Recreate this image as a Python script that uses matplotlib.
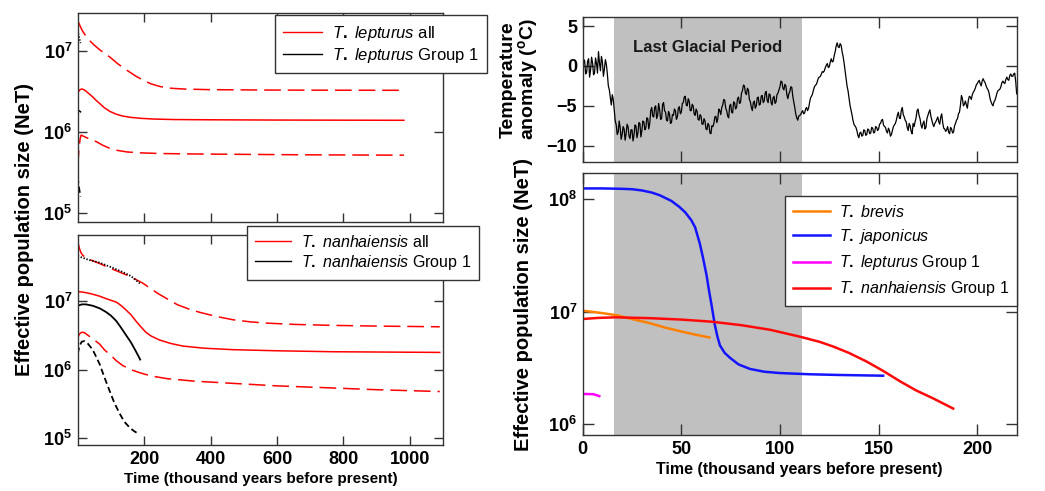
import matplotlib
matplotlib.use('Agg')
import matplotlib.pyplot as plt
from matplotlib.ticker import FixedLocator, NullLocator, NullFormatter

plt.rcParams['font.family'] = ['Liberation Sans', 'DejaVu Sans']
plt.rcParams['mathtext.fontset'] = 'custom'
plt.rcParams['mathtext.rm'] = 'Liberation Sans:bold'
plt.rcParams['mathtext.it'] = 'Liberation Sans:italic'
plt.rcParams['mathtext.bf'] = 'Liberation Sans:bold'
plt.rcParams['lines.scale_dashes'] = False

# ---- Left top: T. lepturus (all = red, Group 1 = black) ----
lep_mid_x = [0, 3, 7, 12, 18, 25, 35, 45, 56, 67, 80, 97, 115, 135, 160, 190,
             230, 290, 400, 600, 982]
lep_mid_y = [3.0e6, 3.2e6, 3.35e6, 3.4e6, 3.35e6, 3.2e6, 2.95e6, 2.72e6,
             2.45e6, 2.24e6, 2.0e6, 1.8e6, 1.67e6, 1.58e6, 1.52e6, 1.48e6,
             1.45e6, 1.43e6, 1.42e6, 1.41e6, 1.4e6]
lep_hi_x = [0, 8, 15, 25, 37, 50, 67, 82, 97, 120, 148, 175, 198, 220, 248,
            280, 320, 400, 600, 982]
lep_hi_y = [2.37e7, 2.0e7, 1.75e7, 1.52e7, 1.33e7, 1.18e7, 1.03e7, 9.3e6,
            8.4e6, 7.0e6, 5.8e6, 4.9e6, 4.35e6, 3.95e6, 3.65e6, 3.48e6, 3.4e6,
            3.34e6, 3.3e6, 3.28e6]
lep_lo_x = [0, 2, 4, 7, 10, 15, 25, 40, 57, 75, 97, 120, 148, 190, 248, 350,
            500, 700, 982]
lep_lo_y = [3.7e5, 5.0e5, 6.5e5, 8.2e5, 9.2e5, 9.0e5, 8.6e5, 8.1e5, 7.6e5,
            6.9e5, 6.3e5, 5.95e5, 5.7e5, 5.55e5, 5.45e5, 5.38e5, 5.32e5,
            5.25e5, 5.2e5]
lep1_x = [0, 4, 8.4]
lep1_mid = [1.86e6, 1.84e6, 1.78e6]
lep1_hi = [1.8e7, 1.5e7, 1.25e7]
lep1_lo = [2.8e5, 2.1e5, 1.6e5]

# ---- Left bottom: T. nanhaiensis (all = red, Group 1 = black) ----
nan_mid_x = [0, 20, 40, 66, 85, 100, 116, 130, 145, 160, 175, 190, 205, 220,
             246, 280, 317, 380, 469, 600, 770, 1090]
nan_mid_y = [1.37e7, 1.33e7, 1.27e7, 1.17e7, 1.08e7, 1.02e7, 9.6e6, 8.6e6,
             7.4e6, 6.3e6, 5.1e6, 4.2e6, 3.5e6, 3.1e6, 2.7e6, 2.4e6, 2.2e6,
             2.05e6, 1.95e6, 1.88e6, 1.82e6, 1.78e6]
nan_hi_x = [0, 5, 10, 15, 30, 50, 66, 90, 120, 150, 175, 197, 220, 245, 268,
            300, 335, 368, 420, 469, 520, 569, 650, 770, 900, 1090]
nan_hi_y = [7.3e7, 5.8e7, 5.0e7, 4.6e7, 4.1e7, 3.75e7, 3.5e7, 3.1e7, 2.7e7,
            2.35e7, 2.05e7, 1.8e7, 1.5e7, 1.25e7, 1.08e7, 8.8e6, 7.6e6, 6.8e6,
            5.9e6, 5.3e6, 4.95e6, 4.75e6, 4.55e6, 4.4e6, 4.3e6, 4.2e6]
nan_lo_x = [0, 5, 12, 20, 35, 50, 66, 80, 100, 116, 135, 160, 187, 220, 268,
            350, 469, 600, 770, 900, 1090]
nan_lo_y = [2.9e6, 3.3e6, 3.5e6, 3.45e6, 3.05e6, 2.7e6, 2.35e6, 1.95e6,
            1.6e6, 1.35e6, 1.15e6, 1.0e6, 9.0e5, 8.1e5, 7.4e5, 6.8e5, 6.3e5,
            5.8e5, 5.4e5, 5.1e5, 4.8e5]
nan1_mid_x = [0, 12, 25, 45, 66, 85, 100, 116, 130, 145, 160, 175, 188]
nan1_mid_y = [8.5e6, 8.9e6, 8.9e6, 8.5e6, 7.8e6, 6.9e6, 6.1e6, 5.1e6, 4.1e6,
              3.2e6, 2.5e6, 1.85e6, 1.4e6]
nan1_hi_x = [0, 30, 66, 100, 130, 160, 187]
nan1_hi_y = [4.5e7, 4.0e7, 3.6e7, 3.1e7, 2.7e7, 2.3e7, 1.8e7]
nan1_lo_x = [0, 5, 12, 20, 30, 45, 55, 66, 80, 96, 110, 126, 140, 157, 170,
             182]
nan1_lo_y = [1.7e6, 2.2e6, 2.55e6, 2.6e6, 2.4e6, 1.95e6, 1.55e6, 1.2e6,
             7.8e5, 4.9e5, 3.3e5, 2.3e5, 1.75e5, 1.42e5, 1.27e5, 1.17e5]

# ---- Right top: temperature anomaly, read at whole and half kyr ----
temp_y_whole = [
    -1.2, 0.6, -0.8, 0.9, -0.5, 0.4, -0.9, 0.3, 1.8, -0.6, 0.5, -0.4, 0.2, -2.5,
    -4.0, -3.6, -5.6, -7.4, -8.3, -7.7, -8.6, -7.9, -8.5, -7.6, -9.1, -8.0, -8.7,
    -7.5, -8.4, -7.2, -8.1, -7.0, -7.8, -6.6, -7.2, -5.2, -6.4, -5.0, -6.2, -5.5,
    -6.6, -4.6, -5.8, -6.9, -6.0, -7.1, -6.2, -5.6, -6.4, -5.1, -5.8, -4.6, -3.8,
    -5.0, -4.4, -5.6, -5.0, -6.2, -5.7, -6.8, -6.3, -7.3, -6.9, -8.0, -7.4, -8.5,
    -7.6, -6.4, -7.1, -5.4, -6.1, -4.9, -4.3, -5.6, -6.5, -4.8, -5.9, -4.6, -5.2,
    -3.9, -4.6, -3.1, -2.5, -3.6, -3.0, -4.5, -5.6, -4.4, -5.0, -3.9, -4.8, -3.7,
    -4.4, -3.2, -4.6, -3.6, -4.9, -3.8, -4.5, -3.4, -2.6, -2.0, -3.0, -2.5, -4.1,
    -3.2, -2.7, -4.5, -6.0, -6.8, -6.2, -5.8, -6.0, -5.4, -5.6, -4.6, -3.8, -3.0,
    -2.4, -1.9, -1.4, -1.0, -0.8, -0.2, 0.3, -0.1, 0.9, 0.6, 1.8, 2.9, 2.3, 2.6,
    1.2, -0.6, -2.5, -4.0, -5.5, -6.8, -7.5, -8.1, -9.0, -8.3, -8.7, -8.1, -8.6,
    -8.0, -8.4, -7.8, -8.3, -7.7, -7.9, -7.2, -6.7, -7.6, -8.2, -7.8, -8.8, -8.1,
    -7.4, -6.8, -5.8, -6.6, -5.2, -6.4, -7.0, -8.1, -7.5, -8.5, -7.6, -6.5, -5.4,
    -6.6, -7.8, -6.9, -7.7, -6.2, -5.5, -6.8, -7.6, -7.0, -6.4, -7.3, -6.0, -7.8,
    -8.2, -7.6, -8.5, -7.9, -8.3, -7.2, -6.6, -5.8, -3.7, -5.0, -4.4, -5.3, -3.8,
    -4.2, -3.3, -2.8, -2.2, -1.8, -2.5, -1.6, -2.1, -2.8, -3.4, -4.5, -5.0, -4.3,
    -3.4, -3.0, -2.6, -1.9, -2.2, -1.4, -1.8, -1.0, -1.3, -0.9, -3.5,
]
temp_y_half = [
    0.8, -1.0, 0.6, -1.4, 1.1, -1.1, 1.0, -0.9, 0.4, 1.2, -1.3, 0.8, -1.0, -3.0,
    -4.9, -4.2, -6.9, -8.6, -6.9, -9.2, -7.6, -9.3, -7.3, -8.8, -8.0, -9.4, -7.4,
    -9.0, -7.1, -8.9, -6.9, -8.0, -6.5, -7.9, -5.6, -6.3, -5.2, -6.6, -4.7, -6.7,
    -4.8, -5.6, -6.8, -5.7, -7.2, -6.1, -5.4, -6.7, -5.3, -6.0, -4.7, -3.9, -4.9,
    -4.1, -5.6, -4.8, -6.0, -5.4, -6.7, -6.1, -7.3, -6.6, -7.9, -7.2, -8.4, -7.5,
    -7.2, -6.3, -6.6, -5.6, -5.2, -4.2, -5.3, -6.3, -5.0, -5.8, -4.5, -5.4, -4.1,
    -4.7, -3.4, -2.4, -3.4, -2.8, -4.2, -5.2, -4.6, -5.3, -4.0, -4.9, -3.8, -4.6,
    -3.4, -4.3, -3.5, -4.6, -4.0, -4.7, -3.6, -3.0, -1.9, -2.8, -2.3, -3.6, -3.5,
    -2.6, -3.8, -5.2, -6.5, -6.3, -6.1, -5.6, -5.9, -5.2, -5.3, -4.0, -3.5, -2.6,
    -2.3, -1.5, -1.3, -0.7, -0.6, 0.1, -0.2, 0.5, 0.5, 1.3, 2.5, 2.4, 2.8, 1.8,
    0.4, -1.6, -3.1, -4.9, -6.1, -7.3, -7.7, -8.7, -8.4, -8.8, -8.0, -8.7, -7.9,
    -8.5, -7.7, -8.4, -7.6, -8.1, -7.3, -6.8, -7.4, -7.7, -8.4, -8.1, -8.6, -7.6,
    -7.2, -6.2, -6.5, -5.6, -6.1, -6.8, -7.7, -7.2, -8.2, -7.2, -7.0, -5.6, -6.2,
    -7.4, -7.2, -7.9, -6.6, -5.8, -6.3, -7.3, -7.2, -6.7, -7.0, -6.4, -7.1, -7.9,
    -8.0, -8.3, -7.7, -8.4, -7.5, -6.8, -6.0, -4.9, -4.1, -4.8, -4.9, -4.3, -3.9,
    -3.6, -3.1, -2.4, -2.0, -2.2, -1.9, -1.9, -2.5, -3.0, -4.1, -4.8, -4.5, -3.9,
    -3.1, -2.9, -2.1, -2.1, -1.7, -1.7, -1.2, -1.3, -1.0, -1.9,
]
glacial_start = 16
glacial_end = 111

# ---- Right bottom: Group 1 comparison ----
jap_x = [0, 10, 20, 25, 30, 35, 39, 45, 49, 52, 55, 57, 59.4, 61, 62.8, 64,
         65.3, 67, 68.3, 69.6, 72, 74.6, 79, 84.8, 92, 100, 115, 130, 152.3]
jap_y = [1.24e8, 1.24e8, 1.23e8, 1.22e8, 1.19e8, 1.14e8, 1.08e8, 9.6e7,
         8.5e7, 7.6e7, 6.5e7, 5.6e7, 4.0e7, 3.0e7, 2.1e7, 1.55e7, 1.15e7,
         7.6e6, 6.0e6, 5.0e6, 4.3e6, 3.9e6, 3.4e6, 3.1e6, 2.93e6, 2.85e6,
         2.78e6, 2.74e6, 2.7e6]
bre_x = [0, 10, 17, 25, 34, 42, 51, 58, 64.2]
bre_y = [1.02e7, 9.7e6, 9.3e6, 8.6e6, 7.9e6, 7.2e6, 6.6e6, 6.2e6, 5.9e6]
lep1b_x = [0, 5.4, 8.4]
lep1b_y = [1.86e6, 1.85e6, 1.78e6]
nan1b_x = [0, 8, 17, 34, 50, 65, 80, 95, 110, 120, 127, 135, 144, 152, 161,
           169, 177.6, 187.8]
nan1b_y = [8.6e6, 8.8e6, 8.9e6, 8.75e6, 8.5e6, 8.15e6, 7.6e6, 6.9e6, 6.0e6,
           5.4e6, 4.9e6, 4.3e6, 3.6e6, 3.0e6, 2.4e6, 2.0e6, 1.7e6, 1.38e6]

SPINE = '#333333'
LONG_DASH = (0, (12, 5))
SHORT_DASH = (0, (4.5, 2.5))
DOTS = (0, (1, 1.2))


def style_axis(ax, tick_len):
    for sp in ax.spines.values():
        sp.set_color(SPINE)
        sp.set_linewidth(1.0)
    ax.tick_params(direction='in', length=tick_len, width=1.0, color=SPINE,
                   top=True, right=True, labelsize=13, pad=4)
    ax.yaxis.set_minor_locator(NullLocator())
    ax.xaxis.set_minor_locator(NullLocator())
    for lab in ax.get_xticklabels() + ax.get_yticklabels():
        lab.set_fontweight('bold')


def legend(ax, handles, labels, anchor, size, spacing):
    leg = ax.legend(handles, labels, loc='upper left', bbox_to_anchor=anchor,
                    bbox_transform=ax.figure.transFigure, fancybox=False,
                    framealpha=1, edgecolor=SPINE, fontsize=size,
                    handlelength=2.3, handletextpad=0.6, borderpad=0.5,
                    labelspacing=spacing, borderaxespad=0)
    leg.get_frame().set_linewidth(1.0)
    leg.set_zorder(10)


def main():
    fig = plt.figure(figsize=(10.45, 4.91), dpi=100)
    ax_lt = fig.add_axes([0.0744, 0.5479, 0.3496, 0.4257])
    ax_lb = fig.add_axes([0.0744, 0.0937, 0.3496, 0.4277])
    ax_rt = fig.add_axes([0.5576, 0.6707, 0.4153, 0.2941])
    ax_rb = fig.add_axes([0.5576, 0.1141, 0.4153, 0.5330])

    # left top
    ax = ax_lt
    ax.plot(lep_hi_x, lep_hi_y, color='red', lw=1.1, ls=LONG_DASH)
    ax.plot(lep_mid_x, lep_mid_y, color='red', lw=1.1)
    ax.plot(lep_lo_x, lep_lo_y, color='red', lw=1.1, ls=LONG_DASH)
    ax.plot(lep1_x, lep1_hi, color='black', lw=1.1, ls=DOTS)
    ax.plot(lep1_x, lep1_mid, color='black', lw=1.1)
    ax.plot(lep1_x, lep1_lo, color='black', lw=1.1, ls=SHORT_DASH)
    ax.set_yscale('log')
    ax.set_xlim(0, 1100)
    ax.set_ylim(7.8e4, 2.95e7)
    ax.xaxis.set_major_locator(FixedLocator([200, 400, 600, 800, 1000]))
    ax.xaxis.set_major_formatter(NullFormatter())
    style_axis(ax, 6.5)
    h = [plt.Line2D([], [], color='red', lw=1.0),
         plt.Line2D([], [], color='black', lw=1.0)]
    legend(ax, h, [r'$\it{T.\ lepturus}$ all', r'$\it{T.\ lepturus}$ Group 1'],
           (0.263, 0.969), 12, 0.2)

    # left bottom
    ax = ax_lb
    ax.plot(nan_hi_x, nan_hi_y, color='red', lw=1.1, ls=LONG_DASH)
    ax.plot(nan_mid_x, nan_mid_y, color='red', lw=1.1)
    ax.plot(nan_lo_x, nan_lo_y, color='red', lw=1.1, ls=LONG_DASH)
    ax.plot(nan1_hi_x, nan1_hi_y, color='black', lw=1.3, ls=DOTS)
    ax.plot(nan1_mid_x, nan1_mid_y, color='black', lw=1.3)
    ax.plot(nan1_lo_x, nan1_lo_y, color='black', lw=1.3, ls=SHORT_DASH)
    ax.set_yscale('log')
    ax.set_xlim(0, 1100)
    ax.set_ylim(8e4, 9.1e7)
    ax.xaxis.set_major_locator(FixedLocator([200, 400, 600, 800, 1000]))
    ax.set_xlabel('Time (thousand years before present)', fontsize=11,
                  fontweight='bold', labelpad=3)
    style_axis(ax, 6.5)
    legend(ax, h, [r'$\it{T.\ nanhaiensis}$ all',
                   r'$\it{T.\ nanhaiensis}$ Group 1'], (0.236, 0.540), 11.5,
           0.2)

    fig.text(0.023, 1 - 229 / 491, 'Effective population size (NeT)',
             rotation=90, ha='center', va='center', fontsize=14.5,
             fontweight='bold')

    # right top
    ax = ax_rt
    temp_x = sorted(list(range(221)) + [i + 0.5 for i in range(220)])
    temp_y = [v for pair in zip(temp_y_whole, temp_y_half) for v in pair]
    temp_y.append(temp_y_whole[-1])
    ax.axvspan(glacial_start, glacial_end, color='#c0c0c0', lw=0, zorder=0)
    ax.plot(temp_x, temp_y, color='black', lw=0.9)
    ax.set_xlim(0, 220)
    ax.set_ylim(-12, 6.1)
    ax.xaxis.set_major_locator(FixedLocator([0, 50, 100, 150, 200]))
    ax.xaxis.set_major_formatter(NullFormatter())
    ax.yaxis.set_major_locator(FixedLocator([-10, -5, 0, 5]))
    ax.text((glacial_start + glacial_end) / 2, 2.3, 'Last Glacial Period',
            ha='center', va='center', fontsize=12, fontweight='bold',
            color='#1a1a1a')
    ax.set_ylabel('Temperature\nanomaly ($^{\\mathrm{o}}$C)', fontsize=14,
                  fontweight='bold', linespacing=0.95)
    ax.yaxis.set_label_coords(-0.098, 0.57)
    style_axis(ax, 8)

    # right bottom
    ax = ax_rb
    ax.axvspan(glacial_start, glacial_end, color='#c0c0c0', lw=0, zorder=0)
    l1, = ax.plot(bre_x, bre_y, color='#ff8000', lw=1.8)
    l2, = ax.plot(jap_x, jap_y, color='#1414ff', lw=1.8)
    l3, = ax.plot(lep1b_x, lep1b_y, color='#ff00ff', lw=1.8)
    l4, = ax.plot(nan1b_x, nan1b_y, color='#ff0a0a', lw=1.8)
    ax.set_yscale('log')
    ax.set_xlim(0, 220)
    ax.set_ylim(8.04e5, 1.69e8)
    ax.xaxis.set_major_locator(FixedLocator([0, 50, 100, 150, 200]))
    ax.set_xlabel('Time (thousand years before present)', fontsize=11.5,
                  fontweight='bold', labelpad=3)
    ax.set_ylabel('Effective population size (NeT)', fontsize=14.5,
                  fontweight='bold')
    ax.yaxis.set_label_coords(-0.115, 0.5)
    style_axis(ax, 8)
    legend(ax, [l1, l2, l3, l4],
           [r'$\it{T.\ brevis}$', r'$\it{T.\ japonicus}$',
            r'$\it{T.\ lepturus}$ Group 1', r'$\it{T.\ nanhaiensis}$ Group 1'],
           (0.751, 0.601), 11.5, 0.45)

    fig.savefig('out.png', dpi=100)
    plt.close(fig)


if __name__ == '__main__':
    main()
